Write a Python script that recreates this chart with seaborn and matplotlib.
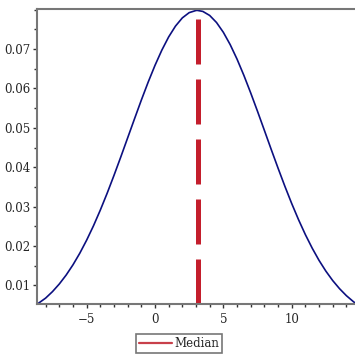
import matplotlib
matplotlib.use("Agg")
import matplotlib.pyplot as plt
from matplotlib.lines import Line2D
from matplotlib.ticker import MultipleLocator
import seaborn as sns
import pandas as pd

# density curve
x_vals = [-8.6, -8, -7.5, -7, -6.5, -6, -5.5, -5, -4.5, -4, -3.5, -3, -2.5, -2,
          -1.5, -1, -0.5, 0, 0.5, 1, 1.5, 2, 2.5, 3, 3.1, 3.5, 4, 4.5, 5, 5.5,
          6, 6.5, 7, 7.5, 8, 8.5, 9, 9.5, 10, 10.5, 11, 11.5, 12, 12.5, 13,
          13.5, 14, 14.5, 14.6]
density = [0.00530, 0.00679, 0.00843, 0.01037, 0.01263, 0.01523, 0.01818,
           0.02149, 0.02513, 0.02912, 0.03339, 0.03792, 0.04262, 0.04744,
           0.05226, 0.05702, 0.06158, 0.06584, 0.06970, 0.07306, 0.07581,
           0.07789, 0.07922, 0.07977, 0.07979, 0.07953, 0.07851, 0.07672,
           0.07423, 0.07111, 0.06744, 0.06332, 0.05886, 0.05418, 0.04937,
           0.04453, 0.03978, 0.03517, 0.03079, 0.02669, 0.02290, 0.01946,
           0.01636, 0.01363, 0.01124, 0.00918, 0.00741, 0.00593, 0.00566]
median_x = 3.15
median_top = 0.0798
y_bottom = 0.0053

x_ticks = [-5, 0, 5, 10]
y_ticks = [0.01, 0.02, 0.03, 0.04, 0.05, 0.06, 0.07]

df = pd.DataFrame({"x": x_vals, "density": density})

sns.set_style("ticks")
plt.rcParams["font.family"] = ["DejaVu Serif"]

fig = plt.figure(figsize=(3.55, 3.55), dpi=100)
ax = fig.add_axes([0.105, 0.1437, 0.895, 0.831])

sns.lineplot(data=df, x="x", y="density", color="#0c1080", linewidth=1.2, ax=ax)
ax.plot([median_x, median_x], [y_bottom, median_top], color="#c41e2c",
        linewidth=3.6, dashes=(9, 3), solid_capstyle="butt", dash_capstyle="butt")

ax.set_xlim(-8.61, 14.63)
ax.set_ylim(y_bottom, 0.08015)
ax.set_xticks(x_ticks)
ax.set_yticks(y_ticks)
ax.set_yticklabels([f"{v:.2f}" for v in y_ticks])
ax.xaxis.set_minor_locator(MultipleLocator(1))
ax.yaxis.set_minor_locator(MultipleLocator(0.005))
ax.set_xlabel("")
ax.set_ylabel("")

for side in ["left", "top", "bottom"]:
    ax.spines[side].set_color("#777777")
    ax.spines[side].set_linewidth(1.5)
ax.spines["right"].set_visible(False)

ax.tick_params(which="major", direction="out", length=3, width=1, color="#333333",
               labelsize=8.5, pad=2, top=False, right=False)
ax.tick_params(which="minor", direction="out", length=2, width=1, color="#333333",
               top=False, right=False)
ax.tick_params(axis="x", which="major", pad=3.5)

handle = Line2D([], [], color="#c8404a", linewidth=1.6)
leg = fig.legend([handle], ["Median"], loc="center", bbox_to_anchor=(0.504, 0.032),
                 fontsize=8.5, frameon=True, fancybox=False, handlelength=2.8,
                 handletextpad=0.2, borderpad=0.25, borderaxespad=0)
leg.get_frame().set_edgecolor("#555555")
leg.get_frame().set_linewidth(1.2)

fig.savefig("out.png", dpi=100)
